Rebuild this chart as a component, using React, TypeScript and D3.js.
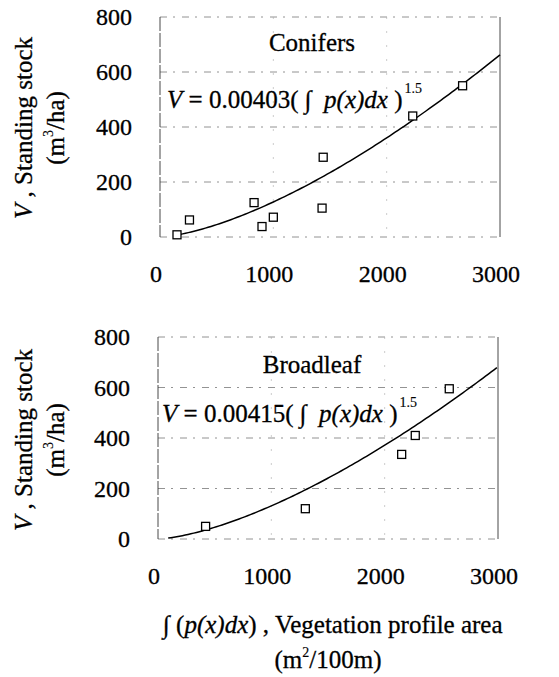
import * as d3 from 'd3';

const coniferArea = [150, 260, 830, 900, 1000, 1430, 1440, 2230, 2670];
const coniferStock = [8, 62, 125, 38, 72, 105, 290, 440, 550];
const broadleafArea = [420, 1300, 2150, 2270, 2570];
const broadleafStock = [50, 120, 335, 410, 595];

const xTicks = [0, 1000, 2000, 3000];
const yTicks = [0, 200, 400, 600, 800];

const FONT = 'Liberation Serif';
const FS = 25;
const TICK_FS = 24;

function Panel({ left, right, top, bottom, title, coef, start, xs, ys, titleY, eqX, eqY, labelCy }) {
  const x = d3.scaleLinear().domain([0, 3000]).range([left, right]);
  const y = d3.scaleLinear().domain([0, 800]).range([bottom, top]);

  const curve = d3.range(start, 3001, 25).map((v) => [v, coef * Math.pow(v, 1.5)]);
  const line = d3.line().x((d) => x(d[0])).y((d) => y(d[1]));

  return (
    <g fontFamily={FONT} fontSize={FS} fill="#000">
      {yTicks.map((t) => (
        <line key={'h' + t} x1={left} x2={right} y1={y(t)} y2={y(t)}
          stroke="#777" strokeWidth={0.8} strokeDasharray="7,6,2,7" />
      ))}
      {[1000, 2000].map((t) => (
        <line key={'v' + t} x1={x(t)} x2={x(t)} y1={top} y2={bottom}
          stroke="#aaa" strokeWidth={0.6} strokeDasharray="2,12" />
      ))}
      <line x1={left} x2={left} y1={top} y2={bottom} stroke="#333" strokeWidth={0.9} strokeDasharray="14,2" />
      <line x1={right} x2={right} y1={top} y2={bottom} stroke="#333" strokeWidth={0.9} />

      <g fontSize={TICK_FS} stroke="#000" strokeWidth={0.3}>
        {yTicks.map((t) => (
          <text key={'yl' + t} x={left - 28} y={y(t)} dy="0.35em" textAnchor="end">{t}</text>
        ))}
        {xTicks.map((t) => (
          <text key={'xl' + t} x={x(t) - 4} y={bottom + 45} textAnchor="middle">{t}</text>
        ))}
      </g>

      <path d={line(curve)} fill="none" stroke="#000" strokeWidth={1.5} />

      {xs.map((v, i) => (
        <rect key={'p' + i} x={x(v) - 4} y={y(ys[i]) - 4} width={8} height={8}
          fill="#fff" stroke="#000" strokeWidth={1.3} />
      ))}

      <g stroke="#000" strokeWidth={0.3}>
        <text x={312} y={titleY} textAnchor="middle">{title}</text>

        <text x={eqX} y={eqY}>
          <tspan fontStyle="italic">V</tspan>
          <tspan>{`\u00A0= ${coef.toFixed(5)}(\u00A0\u222B\u00A0\u00A0`}</tspan>
          <tspan fontStyle="italic">p(x)dx</tspan>
          <tspan>{'\u00A0)'}</tspan>
          <tspan fontSize={14} strokeWidth={0.15} dx={2} dy={-15}>1.5</tspan>
        </text>

        <text transform={`translate(32,${labelCy}) rotate(-90)`} textAnchor="middle">
          <tspan fontStyle="italic">V</tspan>
          <tspan>{' , Standing stock'}</tspan>
        </text>
        <text transform={`translate(64,${labelCy}) rotate(-90)`} textAnchor="middle">
          <tspan>(m</tspan>
          <tspan fontSize={14} strokeWidth={0.15} dy={-11}>3</tspan>
          <tspan dy={11}>/ha)</tspan>
        </text>
      </g>
    </g>
  );
}

function App() {
  return (
    <svg width="559" height="677" style={{ position: 'absolute', left: 0, top: 0, background: '#fff' }}>
      <Panel left={160} right={500} top={17} bottom={237}
        title="Conifers" coef={0.00403} start={150}
        xs={coniferArea} ys={coniferStock}
        titleY={51} eqX={167} eqY={108} labelCy={128} />
      <Panel left={158} right={498} top={337} bottom={539}
        title="Broadleaf" coef={0.00415} start={90}
        xs={broadleafArea} ys={broadleafStock}
        titleY={373} eqX={162} eqY={422} labelCy={440} />

      <g fontFamily={FONT} fontSize={FS} fill="#000" stroke="#000" strokeWidth={0.3}>
        <text x={163} y={633}>
          <tspan>{'\u222B ('}</tspan>
          <tspan fontStyle="italic">p(x)dx</tspan>
          <tspan>{') , Vegetation profile area'}</tspan>
        </text>
        <text x={328} y={668} textAnchor="middle">
          <tspan>(m</tspan>
          <tspan fontSize={14} strokeWidth={0.15} dy={-11}>2</tspan>
          <tspan dy={11}>/100m)</tspan>
        </text>
      </g>
    </svg>
  );
}

export default App;
